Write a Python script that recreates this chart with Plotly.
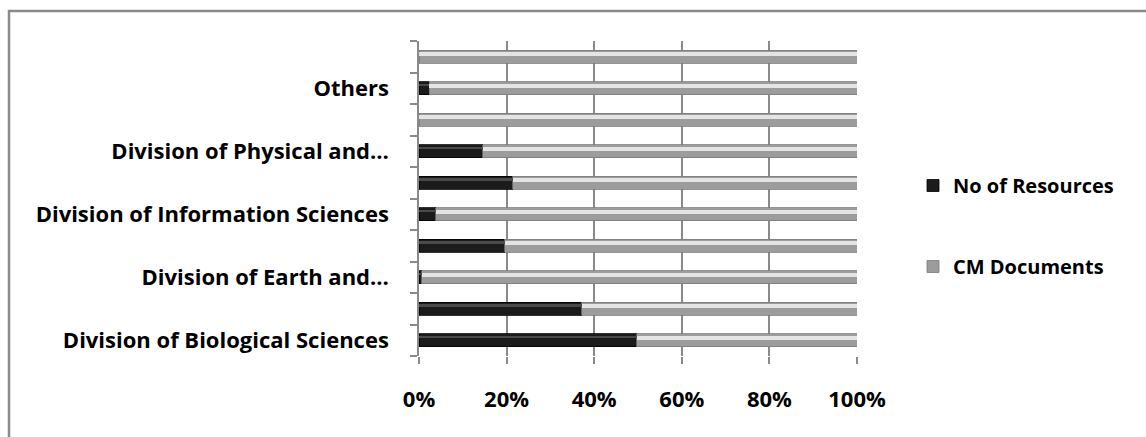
import plotly.graph_objects as go

categories = [
    "Division of Biological Sciences",
    "Division of Chemical Sciences",
    "Division of Earth and Environmental Sciences",
    "Division of Engineering Sciences",
    "Division of Information Sciences",
    "Division of Mathematical Sciences",
    "Division of Physical and Astronomical Sciences",
    "Division of Social Sciences",
    "Others",
    "Unspecified",
]
tick_labels = [
    "Division of Biological Sciences", "",
    "Division of Earth and…", "",
    "Division of Information Sciences", "",
    "Division of Physical and…", "",
    "Others", "",
]
no_of_resources = [49.7, 37.1, 0.6, 19.6, 3.8, 21.4, 14.6, 0.0, 2.3, 0.0]
cm_documents = [round(100 - v, 1) for v in no_of_resources]

FONT = "Open Sans"
FS = 22
BW = 0.42

fig = go.Figure()
fig.add_trace(go.Bar(
    y=categories, x=no_of_resources, orientation="h", name="No of Resources",
    marker=dict(color="#1b1b1b", line=dict(color="#000000", width=0.8)),
    width=BW, legendgroup="a",
))
fig.add_trace(go.Bar(
    y=categories, x=cm_documents, orientation="h", name="CM Documents",
    marker=dict(color="#9c9c9c", line=dict(color="#7a7a7a", width=0.8)),
    width=BW, legendgroup="b",
))
# highlight stripes (cylinder shading) on an overlaid axis
fig.add_trace(go.Bar(
    y=categories, x=no_of_resources, orientation="h", yaxis="y2",
    marker=dict(color="#4a4a4a", line=dict(width=0)),
    width=0.07, offset=0.07, showlegend=False, hoverinfo="skip",
))
fig.add_trace(go.Bar(
    y=categories, x=cm_documents, orientation="h", yaxis="y2",
    marker=dict(color="#e4e4e4", line=dict(width=0)),
    width=0.12, offset=0.02, showlegend=False, hoverinfo="skip",
))

W, H = 1146, 437
L, R, T, B = 419, 857, 41, 356
fig.update_layout(
    width=W, height=H,
    barmode="stack", barnorm="percent",
    margin=dict(l=L, r=W - R, t=T, b=H - B, autoexpand=False),
    paper_bgcolor="white", plot_bgcolor="white",
    font=dict(family=FONT, size=FS, color="black"),
    showlegend=True,
    legend=dict(
        x=(913 - L) / (R - L), y=(B - 166) / (B - T), xanchor="left", yanchor="top",
        traceorder="grouped", tracegroupgap=52,
        font=dict(family=FONT, size=20, color="black", weight="bold"),
        itemwidth=30, bgcolor="rgba(0,0,0,0)",
    ),
    xaxis=dict(
        range=[0, 100], tickvals=[0, 20, 40, 60, 80, 100],
        ticktext=["0%", "20%", "40%", "60%", "80%", "100%"],
        showgrid=True, gridcolor="#8a8a8a", gridwidth=1.5,
        ticks="outside", ticklen=7, tickcolor="#8a8a8a", tickwidth=1.5,
        showline=False, zeroline=False,
        tickfont=dict(family=FONT, size=FS, color="black", weight="bold"),
        ticklabelstandoff=17, fixedrange=True,
    ),
    yaxis=dict(
        type="category", categoryorder="array", categoryarray=categories,
        tickvals=categories, ticktext=tick_labels, tickson="boundaries",
        ticks="outside", ticklen=7, tickcolor="#8a8a8a", tickwidth=1.5,
        showline=True, linecolor="#8a8a8a", linewidth=1.5,
        showgrid=False, zeroline=False,
        tickfont=dict(family=FONT, size=FS, color="black", weight="bold"),
        ticklabelstandoff=24, fixedrange=True,
    ),
    yaxis2=dict(
        type="category", categoryorder="array", categoryarray=categories,
        overlaying="y", visible=False, range=[-0.5, len(categories) - 0.5],
        fixedrange=True,
    ),
)

def px_x(p):
    return (p - L) / (R - L)

def px_y(p):
    return (B - p) / (B - T)

# outer chart border (left and top visible, as in the cropped reference)
fig.add_shape(type="rect", xref="paper", yref="paper",
              x0=px_x(9), x1=px_x(1160), y0=px_y(11), y1=px_y(450),
              line=dict(color="#8a8a8a", width=2.5), fillcolor="rgba(0,0,0,0)",
              layer="below")

fig.write_html("out.html")
